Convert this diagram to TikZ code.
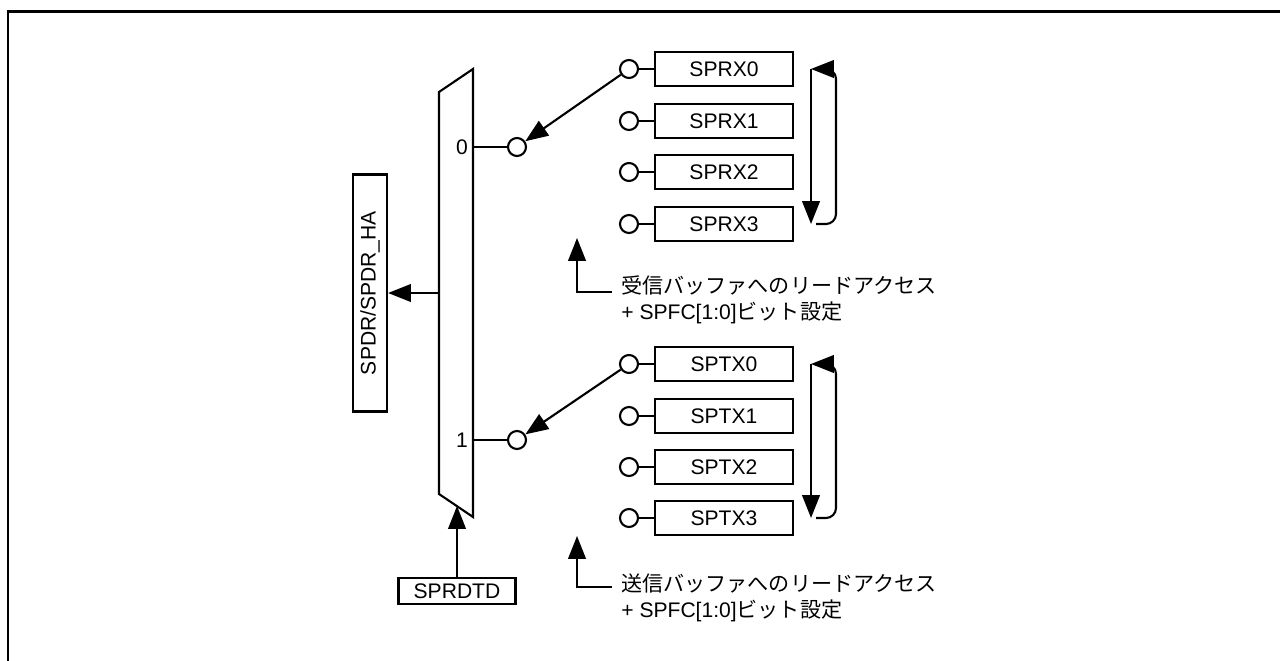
\documentclass[tikz,border=0pt]{standalone}
\usepackage{fontspec}
\setmainfont{Liberation Sans}
\newfontfamily\jpfont{Noto Sans CJK JP}
\usepackage{tikz}
\usetikzlibrary{arrows.meta, calc}

\begin{document}
\begin{tikzpicture}[
    x=0.02cm, y=-0.02cm,
    line/.style={line width=1.2pt},
    arr/.style={line width=1.2pt, -{Triangle[length=13pt, width=10pt]}},
    buf/.style={rectangle, draw, line width=1.2pt, minimum width=2.76cm, minimum height=0.68cm, inner sep=0pt, font=\fontsize{12}{14}\selectfont},
    port/.style={circle, draw, line width=1.2pt, minimum size=0.36cm, inner sep=0pt, fill=white},
    lbl/.style={font=\fontsize{12}{14}\selectfont, inner sep=0pt},
    note/.style={font=\fontsize{12}{15}\selectfont, align=left, anchor=north west, inner sep=0pt},
  ]
    \useasboundingbox (0,0) rectangle (1280,661);

    % Frame
    \draw[line width=1.7pt] (8,661) -- (8,12) -- (1280,12);

    % Selector
    \draw[line] (439,92) -- (473,69) -- (473,517) -- (439,494) -- cycle;
    \coordinate (m0) at (473,147);
    \coordinate (m1) at (473,440);
    \coordinate (mout) at (439,293);
    \coordinate (msel) at (457,506);
    \node[lbl] (in0) at (462,147) {0};
    \node[lbl] (in1) at (462,440) {1};
    \node[port] (c0) at (517,147) {};
    \node[port] (c1) at (517,440) {};
    \draw[line] (m0) -- (c0);
    \draw[line] (m1) -- (c1);

    % Output register
    \node[rectangle, draw, line, rotate=90, minimum width=4.74cm, minimum height=0.68cm, inner sep=0pt, font=\fontsize{12}{14}\selectfont] (spdr) at (370,293) {SPDR/SPDR\_HA};
    \draw[arr] (mout) -- (spdr.south);

    % Select input
    \node[buf, minimum width=2.34cm, minimum height=0.52cm] (sprdtd) at (457,591) {SPRDTD};
    \draw[arr] (sprdtd.north) -- (msel);

    % Receive buffers
    \node[buf] (rx0) at (724,69) {SPRX0};
    \node[buf] (rx1) at (724,121) {SPRX1};
    \node[buf] (rx2) at (724,172) {SPRX2};
    \node[buf] (rx3) at (724,224) {SPRX3};
    \node[port] (rp0) at (629,69) {};
    \node[port] (rp1) at (629,121) {};
    \node[port] (rp2) at (629,172) {};
    \node[port] (rp3) at (629,224) {};
    \draw[line] (rp0) -- (rx0);
    \draw[line] (rp1) -- (rx1);
    \draw[line] (rp2) -- (rx2);
    \draw[line] (rp3) -- (rx3);
    \draw[arr] (rp0) -- (c0);
    \coordinate (rtop) at (811,69);
    \coordinate (rbot) at (811,224);
    \draw[arr] (rtop) -- (rbot);
    \draw[arr, rounded corners=0.2cm] ($(rbot)+(5,0)$) -- (836,224) |- (rtop);

    % Receive note
    \coordinate (rxtip) at (577,238);
    \coordinate (rxcorner) at (612,292);
    \draw[arr] (rxcorner) -| (rxtip);
    \node[note] (rxnote) at (621,275) {\jpfont 受信バッファへのリードアクセス\\+ SPFC[1:0]{\jpfont ビット設定}};

    % Transmit buffers
    \node[buf] (tx0) at (724,364) {SPTX0};
    \node[buf] (tx1) at (724,416) {SPTX1};
    \node[buf] (tx2) at (724,467) {SPTX2};
    \node[buf] (tx3) at (724,518) {SPTX3};
    \node[port] (tp0) at (629,364) {};
    \node[port] (tp1) at (629,416) {};
    \node[port] (tp2) at (629,467) {};
    \node[port] (tp3) at (629,518) {};
    \draw[line] (tp0) -- (tx0);
    \draw[line] (tp1) -- (tx1);
    \draw[line] (tp2) -- (tx2);
    \draw[line] (tp3) -- (tx3);
    \draw[arr] (tp0) -- (c1);
    \coordinate (ttop) at (811,364);
    \coordinate (tbot) at (811,518);
    \draw[arr] (ttop) -- (tbot);
    \draw[arr, rounded corners=0.2cm] ($(tbot)+(5,0)$) -- (836,518) |- (ttop);

    % Transmit note
    \coordinate (txtip) at (577,536);
    \coordinate (txcorner) at (612,587);
    \draw[arr] (txcorner) -| (txtip);
    \node[note] (txnote) at (621,573) {\jpfont 送信バッファへのリードアクセス\\+ SPFC[1:0]{\jpfont ビット設定}};

  \end{tikzpicture}
\end{document}
